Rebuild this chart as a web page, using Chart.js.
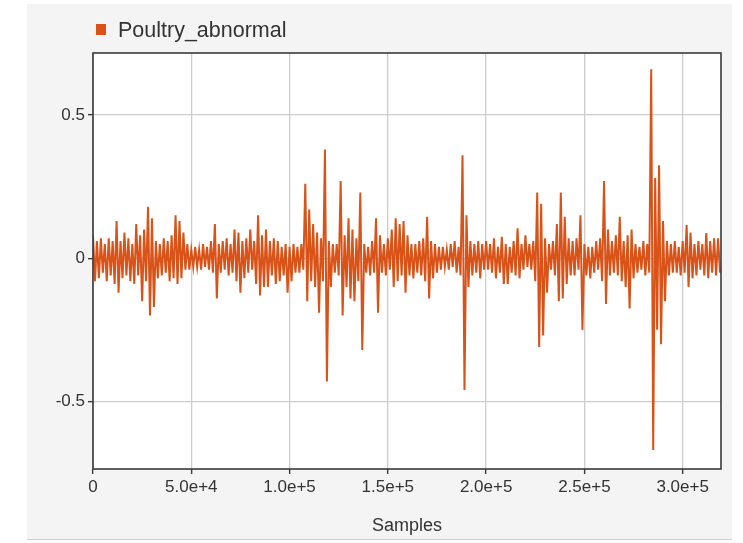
<!DOCTYPE html>
<html>
<head>
<meta charset="utf-8">
<title>Poultry_abnormal</title>
<script src="https://cdn.jsdelivr.net/npm/chart.js@4.4.1/dist/chart.umd.min.js"></script>
<style>
  html, body { margin: 0; padding: 0; background: #ffffff; }
  #card {
    position: absolute; left: 27px; top: 4px; width: 705px; height: 535px;
    background: #f4f4f4; border-bottom: 1px solid #cfcfcf;
  }
  #chart { position: absolute; left: 0; top: 0; }
</style>
</head>
<body>
<div id="card"></div>
<canvas id="chart" width="743" height="543"></canvas>
<script>
// Serie y ejes
const seriesName = "Poultry_abnormal";
const axisTitle = "Samples";
const sampleStep = 2000; // cada bloque = 2000 muestras (pico alto + pico bajo)
const xTicks = [0, 50000, 100000, 150000, 200000, 250000, 300000];
const yTicks = [-0.5, 0, 0.5];
const xMax = 319500;
const yMin = -0.736;
const yMax = 0.717;

// Envolvente: valor alto y bajo de cada bloque
const upperValues = [
  0.08, 0.06, 0.07, 0.05, 0.07, 0.06, 0.13, 0.06, 0.09, 0.07,
  0.05, 0.12, 0.08, 0.10, 0.18, 0.14, 0.06, 0.05, 0.07, 0.06,
  0.08, 0.15, 0.13, 0.09, 0.05, 0.03, 0.04, 0.03, 0.05, 0.04,
  0.06, 0.12, 0.05, 0.06, 0.07, 0.05, 0.10, 0.09, 0.06, 0.07,
  0.10, 0.06, 0.15, 0.08, 0.10, 0.06, 0.07, 0.06, 0.04, 0.05,
  0.04, 0.05, 0.04, 0.05, 0.26, 0.17, 0.12, 0.09, 0.07, 0.38,
  0.06, 0.05, 0.05, 0.27, 0.08, 0.14, 0.10, 0.07, 0.23, 0.05,
  0.04, 0.06, 0.14, 0.08, 0.05, 0.07, 0.10, 0.14, 0.12, 0.13,
  0.08, 0.05, 0.05, 0.06, 0.07, 0.145, 0.06, 0.05, 0.04, 0.04,
  0.03, 0.05, 0.06, 0.04, 0.36, 0.15, 0.06, 0.05, 0.06, 0.05,
  0.06, 0.05, 0.07, 0.04, 0.075, 0.05, 0.04, 0.06, 0.105, 0.05,
  0.08, 0.05, 0.06, 0.23, 0.19, 0.07, 0.05, 0.06, 0.12, 0.23,
  0.145, 0.07, 0.06, 0.07, 0.15, 0.05, 0.04, 0.04, 0.06, 0.07,
  0.27, 0.10, 0.06, 0.08, 0.145, 0.06, 0.08, 0.10, 0.05, 0.04,
  0.06, 0.05, 0.66, 0.28, 0.325, 0.13, 0.06, 0.05, 0.06, 0.04,
  0.06, 0.116, 0.09, 0.05, 0.06, 0.05, 0.088, 0.06, 0.07, 0.07
];
const lowerValues = [
  -0.08, -0.07, -0.05, -0.08, -0.06, -0.09, -0.12, -0.07, -0.06, -0.08,
  -0.09, -0.06, -0.15, -0.08, -0.20, -0.17, -0.07, -0.06, -0.05, -0.08,
  -0.07, -0.09, -0.07, -0.04, -0.04, -0.03, -0.03, -0.04, -0.03, -0.04,
  -0.05, -0.14, -0.05, -0.04, -0.06, -0.05, -0.08, -0.12, -0.07, -0.05,
  -0.04, -0.09, -0.13, -0.10, -0.10, -0.06, -0.09, -0.08, -0.06, -0.12,
  -0.08, -0.05, -0.05, -0.04, -0.15, -0.08, -0.10, -0.19, -0.08, -0.43,
  -0.10, -0.05, -0.06, -0.20, -0.10, -0.14, -0.15, -0.08, -0.32, -0.05,
  -0.06, -0.05, -0.19, -0.05, -0.06, -0.04, -0.10, -0.08, -0.06, -0.12,
  -0.06, -0.07, -0.05, -0.06, -0.08, -0.14, -0.07, -0.05, -0.04, -0.03,
  -0.04, -0.03, -0.05, -0.06, -0.46, -0.10, -0.06, -0.05, -0.07, -0.04,
  -0.04, -0.05, -0.07, -0.05, -0.09, -0.09, -0.05, -0.06, -0.07, -0.04,
  -0.03, -0.04, -0.08, -0.31, -0.27, -0.12, -0.04, -0.06, -0.15, -0.14,
  -0.09, -0.06, -0.06, -0.04, -0.25, -0.06, -0.07, -0.05, -0.04, -0.08,
  -0.16, -0.06, -0.05, -0.06, -0.08, -0.10, -0.175, -0.07, -0.05, -0.04,
  -0.06, -0.05, -0.67, -0.25, -0.30, -0.15, -0.06, -0.05, -0.05, -0.06,
  -0.05, -0.10, -0.07, -0.06, -0.04, -0.06, -0.07, -0.05, -0.06, -0.05
];

const lineColor = "#d95319";

// Arma los puntos: cada bloque da un punto alto y uno bajo
const points = [];
upperValues.forEach((up, i) => {
    points.push({ x: i * sampleStep, y: up });
    points.push({ x: i * sampleStep + sampleStep / 2, y: lowerValues[i] });
});

// Plugin: fondo blanco del área, marco y leyenda
const frameAndLegend = {
    id: 'frameAndLegend',
    beforeDraw(chart) {
        const { ctx, chartArea: a } = chart;
        ctx.save();
        ctx.fillStyle = '#ffffff';
        ctx.fillRect(a.left, a.top, a.right - a.left, a.bottom - a.top);
        ctx.restore();
    },
    afterDraw(chart) {
        const { ctx, chartArea: a } = chart;
        ctx.save();
        ctx.strokeStyle = '#3a3a3a';
        ctx.lineWidth = 1.6;
        ctx.strokeRect(a.left, a.top, a.right - a.left, a.bottom - a.top);

        const ds = chart.data.datasets[0];
        ctx.fillStyle = ds.borderColor;
        ctx.fillRect(96, 24, 10, 11);
        ctx.fillStyle = '#333333';
        ctx.font = '21.5px "Liberation Sans", Arial, sans-serif';
        ctx.textBaseline = 'alphabetic';
        ctx.fillText(ds.label, 118, 37);
        ctx.restore();
    }
};

const ctx = document.getElementById('chart').getContext('2d');
new Chart(ctx, {
    type: 'line',
    data: {
        datasets: [{
            label: seriesName,
            data: points,
            borderColor: lineColor,
            borderWidth: 2,
            pointRadius: 0,
            tension: 0,
            fill: false
        }]
    },
    options: {
        responsive: false,
        animation: false,
        layout: { padding: { left: 0, top: 53, right: 22, bottom: 0 } },
        plugins: {
            legend: { display: false },
            tooltip: { enabled: false }
        },
        scales: {
            x: {
                type: 'linear',
                min: 0,
                max: xMax,
                afterBuildTicks: scale => { scale.ticks = xTicks.map(v => ({ value: v })); },
                afterFit: scale => { scale.height = 74; },
                grid: { color: '#cdcdcd', lineWidth: 1.3, tickLength: 5, tickColor: '#3a3a3a', tickWidth: 1.4 },
                border: { display: false },
                ticks: {
                    color: '#333333',
                    font: { family: '"Liberation Sans", Arial, sans-serif', size: 17 },
                    padding: 3,
                    maxRotation: 0,
                    callback: v => v === 0 ? '0' : Number(v).toExponential(1)
                },
                title: {
                    display: true,
                    text: axisTitle,
                    color: '#333333',
                    font: { family: '"Liberation Sans", Arial, sans-serif', size: 18 },
                    padding: { top: 0, bottom: 6 }
                }
            },
            y: {
                min: yMin,
                max: yMax,
                afterBuildTicks: scale => { scale.ticks = yTicks.map(v => ({ value: v })); },
                afterFit: scale => { scale.width = 93; },
                grid: { color: '#cdcdcd', lineWidth: 1.3, tickLength: 5, tickColor: '#3a3a3a', tickWidth: 1.4 },
                border: { display: false },
                ticks: {
                    color: '#333333',
                    font: { family: '"Liberation Sans", Arial, sans-serif', size: 17 },
                    padding: 3,
                    callback: v => v === 0 ? '0' : String(v)
                }
            }
        }
    },
    plugins: [frameAndLegend]
});
</script>
</body>
</html>
